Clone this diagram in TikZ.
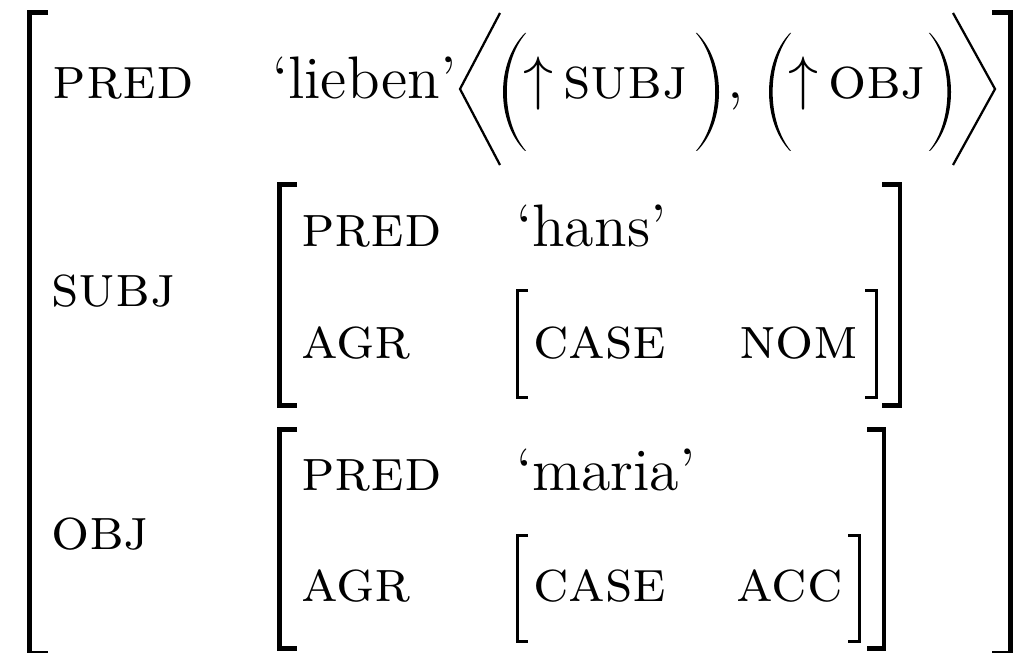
\documentclass[tikz,border=0pt]{standalone}
\usepackage{amsmath}
\usepackage{amssymb}
\usepackage{tikz}
\tikzset{
  attr/.style={anchor=base west, inner sep=0pt},
  outerbr/.style={line width=1pt},
  midbr/.style={line width=0.9pt},
  innerbr/.style={line width=0.6pt},
  anglebr/.style={line width=0.45pt, line join=miter},
  lpar/.pic={\fill (0,0) .. controls (-1.333,0.25) and (-1.333,0.75) .. (0,1)
    -- (0.05,1) .. controls (-1.12,0.75) and (-1.12,0.25) .. (0.05,0) -- cycle;},
  rpar/.pic={\fill (0,0) .. controls (1.333,0.25) and (1.333,0.75) .. (0,1)
    -- (-0.05,1) .. controls (1.12,0.75) and (1.12,0.25) .. (-0.05,0) -- cycle;}
}
% square bracket: serif end x, top y, stem x, bottom y
\newcommand{\sqbr}[5]{\draw[#1] (#2,#3) -| (#4,#5) -- (#2,#5);}

\begin{document}
\begin{tikzpicture}[x=0.2pt, y=-0.2pt, font=\fontsize{12}{14.4}\selectfont]
\useasboundingbox (0,0) rectangle (1023,652);
% outer f-structure
\sqbr{outerbr}{48}{12.5}{29.5}{653}
\sqbr{outerbr}{992}{12.5}{1010.5}{653}
\node[attr] (pred) at (52,99) {\textsc{pred}};
\node[attr] (lieben) at (271,99) {`lieben'};
\draw[anglebr] (500,13) -- (460,89) -- (500,165);
\pic[xscale=22, yscale=118] at (525,33) {lpar};
\node[attr] (upsubj) at (522,99) {$\uparrow\,$\textsc{subj}};
\pic[xscale=22, yscale=118] at (697,33) {rpar};
\node[attr] (comma) at (726,99) {,};
\pic[xscale=21, yscale=118] at (790,33) {lpar};
\node[attr] (upobj) at (787,99) {$\uparrow\,$\textsc{obj}};
\pic[xscale=21, yscale=118] at (930,33) {rpar};
\draw[anglebr] (953,13) -- (995,89) -- (953,165);
% subj
\sqbr{midbr}{297}{184.5}{279.5}{405.5}
\sqbr{midbr}{882}{184.5}{900}{405.5}
\node[attr] (subj) at (50,306) {\textsc{subj}};
\node[attr] (spred) at (300,247) {\textsc{pred}};
\node[attr] (hans) at (515,247) {`hans'};
\node[attr] (sagr) at (300,358) {\textsc{agr}};
\sqbr{innerbr}{528}{290}{517}{397}
\sqbr{innerbr}{865}{290}{876}{397}
\node[attr] (scase) at (532,358) {\textsc{case}};
\node[attr] (nom) at (738,358) {\textsc{nom}};
% obj
\sqbr{midbr}{297}{429.5}{279.5}{648.5}
\sqbr{midbr}{867}{429.5}{884}{648.5}
\node[attr] (obj) at (50,549) {\textsc{obj}};
\node[attr] (opred) at (300,490) {\textsc{pred}};
\node[attr] (maria) at (515,490) {`maria'};
\node[attr] (oagr) at (300,601) {\textsc{agr}};
\sqbr{innerbr}{528}{535}{517}{641}
\sqbr{innerbr}{848}{535}{859}{641}
\node[attr] (ocase) at (532,601) {\textsc{case}};
\node[attr] (acc) at (735,601) {\textsc{acc}};
\end{tikzpicture}
\end{document}
